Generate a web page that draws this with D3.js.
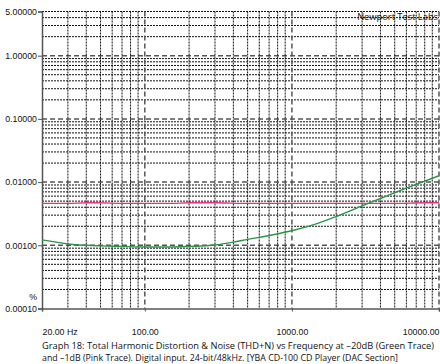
<!DOCTYPE html>
<html>
<head>
<meta charset="utf-8">
<script src="https://cdn.jsdelivr.net/npm/d3@7"></script>
<style>
  body { margin: 0; background: #fff; }
  svg { display: block; }
  .lbl { font-family: "Liberation Sans", Arial, sans-serif; font-size: 8.8px; fill: #111; }
  .cap { font-family: "Open Sans", "Noto Sans", sans-serif; font-size: 9.3px; fill: #111; }
</style>
</head>
<body>
<svg id="chart"></svg>
<script>
// frequency (Hz) and THD+N (%)
const greenFreq = [20, 25, 30, 40, 50, 70, 100, 150, 200, 300, 400, 500, 700, 1000, 1500, 2000, 3000, 4000, 5000, 7000, 10000];
const greenVals = [0.00122, 0.00112, 0.00105, 0.00100, 0.00098, 0.00096, 0.00094, 0.00094, 0.00096, 0.00101, 0.00112, 0.00124, 0.00143, 0.00170, 0.00222, 0.00285, 0.00420, 0.00550, 0.0068, 0.0092, 0.0126];
const pinkFreq = [20, 30, 40, 50, 70, 100, 150, 200, 300, 500, 1000, 2000, 5000, 8000, 10000];
const pinkVals = [0.0046, 0.0046, 0.0047, 0.0047, 0.0046, 0.0046, 0.0046, 0.0047, 0.0047, 0.0046, 0.0046, 0.0046, 0.0046, 0.0047, 0.0047];

const yTicks = [0.0001, 0.001, 0.01, 0.1, 1, 5];
const yTickLabels = ["0.00010", "0.00100", "0.01000", "0.10000", "1.00000", "5.00000"];
const xTicks = [20, 100, 1000, 10000];
const xTickLabels = ["20.00 Hz", "100.00", "1000.00", "10000.00"];

const caption = [
  "Graph 18: Total Harmonic Distortion & Noise (THD+N) vs Frequency at \u201320dB (Green Trace)",
  "and \u20131dB (Pink Trace). Digital input. 24-bit/48kHz.  [YBA CD-100 CD Player (DAC Section]"
];

const width = 440, height = 364;
const svg = d3.select("#chart").attr("width", width).attr("height", height);

const x = d3.scaleLog().domain([20, 10000]).range([42, 439]);
const y = d3.scaleLog().domain([0.0001, 5]).range([308.5, 11.5]);

const isMajor = v => Math.abs(Math.log10(v) - Math.round(Math.log10(v))) < 1e-6;

// grid
const grid = svg.append("g");
grid.selectAll(".hg")
    .data(y.ticks().filter(v => v > 0.0001))
    .enter().append("line")
    .attr("x1", x(20)).attr("x2", x(10000))
    .attr("y1", d => y(d)).attr("y2", d => y(d))
    .attr("stroke", d => isMajor(d) ? "#555" : "#111")
    .attr("stroke-width", d => isMajor(d) ? 1.5 : 1)
    .attr("stroke-dasharray", d => isMajor(d) ? "5,3" : "2,1");

grid.selectAll(".vg")
    .data(x.ticks().filter(v => v > 20))
    .enter().append("line")
    .attr("x1", d => x(d)).attr("x2", d => x(d))
    .attr("y1", y(5)).attr("y2", y(0.0001))
    .attr("stroke", d => isMajor(d) ? "#555" : "#111")
    .attr("stroke-width", d => isMajor(d) ? 1.5 : 1)
    .attr("stroke-dasharray", d => isMajor(d) ? "5,3" : "2,1");

// axes
const yAxis = svg.append("g")
    .attr("transform", `translate(${x(20)},0)`)
    .call(d3.axisLeft(y).tickValues(yTicks).tickFormat((d, i) => yTickLabels[i]).tickSize(4).tickPadding(1));
yAxis.select(".domain").attr("stroke", "#555").attr("stroke-width", 1.5);
yAxis.selectAll(".tick line").attr("stroke", "#555");
yAxis.selectAll("text").attr("class", "lbl").attr("font-family", null).attr("font-size", null);

const xAxis = svg.append("g")
    .attr("transform", `translate(0,${y(0.0001)})`)
    .call(d3.axisBottom(x).tickValues(xTicks).tickFormat((d, i) => xTickLabels[i]).tickSize(3).tickPadding(17));
xAxis.select(".domain").attr("stroke", "#555").attr("stroke-width", 1.5);
xAxis.selectAll(".tick line").attr("stroke", "#555");
xAxis.selectAll("text").attr("class", "lbl").attr("font-family", null).attr("font-size", null)
    .attr("text-anchor", (d, i) => i === 0 ? "start" : i === xTicks.length - 1 ? "end" : "middle");

svg.append("text").attr("class", "lbl")
    .attr("x", 37).attr("y", 300).attr("text-anchor", "end").text("%");

// traces
const line = d3.line().x(d => x(d[0])).y(d => y(d[1])).curve(d3.curveMonotoneX);

svg.append("path")
    .datum(pinkFreq.map((f, i) => [f, pinkVals[i]]))
    .attr("d", line)
    .attr("fill", "none").attr("stroke", "#e8307e").attr("stroke-width", 1.4);

svg.append("path")
    .datum(greenFreq.map((f, i) => [f, greenVals[i]]))
    .attr("d", line)
    .attr("fill", "none").attr("stroke", "#2a9646").attr("stroke-width", 1.4);

svg.append("text").attr("class", "cap")
    .attr("x", 438).attr("y", 20).attr("text-anchor", "end")
    .attr("fill", "#333")
    .text("Newport Test Labs");

// caption
svg.selectAll(".capline")
    .data(caption)
    .enter().append("text")
    .attr("class", "cap")
    .attr("x", 42)
    .attr("y", (d, i) => 348.5 + i * 12)
    .attr("textLength", (d, i) => i === 0 ? 392 : 356)
    .attr("lengthAdjust", "spacingAndGlyphs")
    .text(d => d);
</script>
</body>
</html>
